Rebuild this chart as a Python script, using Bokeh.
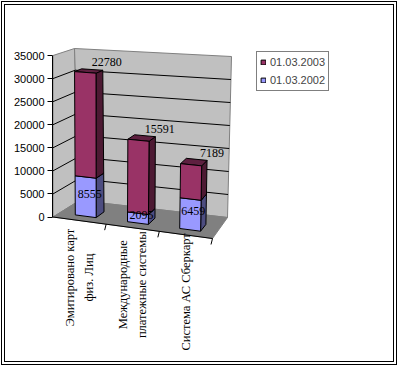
import math
from bokeh.plotting import figure
from bokeh.models import Range1d, FixedTicker, Legend, LegendItem
from bokeh.core.properties import value
from bokeh.embed import file_html
from bokeh.resources import INLINE

# ---------------- data ----------------
categories = ["Эмитировано карт\nфиз. Лиц", "Международные\nплатежные системы", "Система АС Сберкарт"]
series_names = ["01.03.2002", "01.03.2003"]
values_2002 = [8555, 2095, 6459]
values_2003 = [22780, 15591, 7189]
y_ticks = [0, 5000, 10000, 15000, 20000, 25000, 30000, 35000]

# ---------------- style / layout ----------------
W, H = 398, 366
FRAME_LEFT = 52              # px of frame left (axis line)
V_MAX = y_ticks[-1]
Y_ZERO, Y_TOP = 216.5, 55.0  # px of value 0 / V_MAX on the front-left edge
K = V_MAX / (Y_ZERO - Y_TOP) # value units per pixel

# projected box corners (u, v, w) -> screen px (perspective approximation)
CORNERS = {
    (0, 0, 0): (52.5, 216.5), (0, 1, 0): (52.5, 55.0),
    (1, 0, 0): (212.0, 238.0), (1, 1, 0): (215.0, 67.0),
    (0, 0, 1): (79.0, 200.0), (0, 1, 1): (74.0, 48.0),
    (1, 0, 1): (227.0, 217.0), (1, 1, 1): (231.0, 56.0),
}
BAR_FRAC = 0.40
W0, W1 = 0.25, 0.58

COL_FRONT = ["#9999ff", "#993366"]
COL_SIDE = ["#4d4d80", "#4d1a33"]
COL_TOP = ["#6b6bb3", "#5e2040"]


def project(u, v, w):
    x = y = 0.0
    for (cu, cv, cw), (px, py) in CORNERS.items():
        wt = (u if cu else 1 - u) * (v if cv else 1 - v) * (w if cw else 1 - w)
        x += wt * px
        y += wt * py
    return x, (Y_ZERO - y) * K


def poly(pts):
    xs, ys = zip(*[project(*p) for p in pts])
    return list(xs), list(ys)


p = figure(width=W, height=H, output_backend="svg", toolbar_location=None,
           x_axis_type=None,
           x_range=Range1d(FRAME_LEFT, W),
           y_range=Range1d((Y_ZERO - H) * K, Y_ZERO * K),
           min_border_left=FRAME_LEFT, min_border_right=0,
           min_border_top=0, min_border_bottom=0)
p.outline_line_color = None
p.ygrid.visible = False
p.background_fill_color = None
p.border_fill_color = None
p.styles = {"background": "white",
            "box-shadow": "inset 0 0 0 1px white, inset 0 0 0 2px black, "
                          "inset 0 0 0 4px white, inset 0 0 0 5px black"}

# y axis
ax = p.yaxis[0]
ax.ticker = FixedTicker(ticks=y_ticks)
ax.bounds = (0, V_MAX)
ax.minor_tick_line_color = None
ax.major_tick_in = 0
ax.major_tick_out = 5
ax.major_label_standoff = 3
ax.axis_line_color = "black"
ax.major_tick_line_color = "black"
ax.major_label_text_font = "Liberation Sans"
ax.major_label_text_font_size = "11px"
ax.major_label_text_color = "black"

# walls and floor
walls = [poly([(0, 0, 0), (0, 0, 1), (0, 1, 1), (0, 1, 0)]),
         poly([(0, 0, 1), (1, 0, 1), (1, 1, 1), (0, 1, 1)])]
p.patches([w[0] for w in walls], [w[1] for w in walls], fill_color="#c0c0c0",
          line_color="#808080", line_width=1)
floor = poly([(0, 0, 0), (1, 0, 0), (1, 0, 1), (0, 0, 1)])
p.patch(floor[0], floor[1], fill_color="#808080", line_color="#808080")

# gridlines
gx, gy = [], []
for t in y_ticks[1:-1]:
    xs, ys = poly([(0, t / V_MAX, 0), (0, t / V_MAX, 1), (1, t / V_MAX, 1)])
    gx.append(xs)
    gy.append(ys)
p.multi_line(gx, gy, line_color="black", line_width=1)

# category axis line and ticks
ex, ey = poly([(0, 0, 0), (1, 0, 0)])
p.line(ex, ey, line_color="black", line_width=1)
n = len(categories)
tx, ty = [], []
for k in range(1, n + 1):
    x0, y0 = project(k / n, 0, 0)
    tx.append([x0, x0 - 1.5])
    ty.append([y0, y0 - 6 * K])
p.multi_line(tx, ty, line_color="black", line_width=1)

# bars
series = [values_2002, values_2003]
front_renderers = []
bottoms = [0.0] * n
seg = []
for s, vals in enumerate(series):
    fx, fy, sx, sy, tpx, tpy = [], [], [], [], [], []
    for i, v in enumerate(vals):
        uc = (i + 0.5) / n
        u0, u1 = uc - BAR_FRAC / n / 2, uc + BAR_FRAC / n / 2
        b = bottoms[i] / V_MAX
        t = (bottoms[i] + v) / V_MAX
        a, c = poly([(u0, b, W0), (u1, b, W0), (u1, t, W0), (u0, t, W0)]); fx.append(a); fy.append(c)
        a, c = poly([(u1, b, W0), (u1, b, W1), (u1, t, W1), (u1, t, W0)]); sx.append(a); sy.append(c)
        a, c = poly([(u0, t, W0), (u1, t, W0), (u1, t, W1), (u0, t, W1)]); tpx.append(a); tpy.append(c)
        seg.append((s, uc, bottoms[i], bottoms[i] + v, v))
        bottoms[i] += v
    p.patches(sx, sy, fill_color=COL_SIDE[s], line_color="black", line_width=1)
    p.patches(tpx, tpy, fill_color=COL_TOP[s], line_color="black", line_width=1)
    r = p.patches(fx, fy, fill_color=COL_FRONT[s], line_color="black", line_width=1)
    front_renderers.append(r)

# data labels
lab = {0: dict(x=[], y=[], t=[]), 1: dict(x=[], y=[], t=[])}
for s, uc, b, t, v in seg:
    if s == 0:
        x, y = project(uc, (b + t) / 2 / V_MAX, (W0 + W1) / 2)
    else:
        x, y = project(uc, t / V_MAX, (W0 + W1) / 2)
    lab[s]["x"].append(x); lab[s]["y"].append(y); lab[s]["t"].append(str(v))
p.text(lab[0]["x"], lab[0]["y"], text=lab[0]["t"], text_font=value("Liberation Serif"),
       text_font_size="12px", text_align="center", text_baseline="middle", text_color="black")
p.text(lab[1]["x"], lab[1]["y"], text=lab[1]["t"], text_font=value("Liberation Serif"),
       text_font_size="12px", text_align="center", text_baseline="middle", text_color="black",
       x_offset=18, y_offset=-9)

# category labels (rotated)
cx, cy = [], []
for i in range(n):
    x, y = project((i + 0.5) / n, 0, 0)
    cx.append(x)
    cy.append(y - (7 + 50) * K)
p.text(cx, cy, text=categories, angle=math.pi / 2, text_font=value("Liberation Serif"),
       text_font_size="12.5px", text_align="center", text_baseline="middle",
       text_line_height=1.35, text_color="black")

# legend
legend = Legend(items=[LegendItem(label=series_names[1], renderers=[front_renderers[1]]),
                       LegendItem(label=series_names[0], renderers=[front_renderers[0]])],
                location=(204, 275), orientation="vertical", padding=3, spacing=4, margin=0,
                label_standoff=4, glyph_width=6, glyph_height=6, label_height=14,
                label_text_font="Liberation Sans", label_text_font_size="11px",
                border_line_color="black", border_line_width=1,
                background_fill_color="white", background_fill_alpha=1)
p.add_layout(legend)

open("out.html", "w").write(file_html(p, INLINE))
